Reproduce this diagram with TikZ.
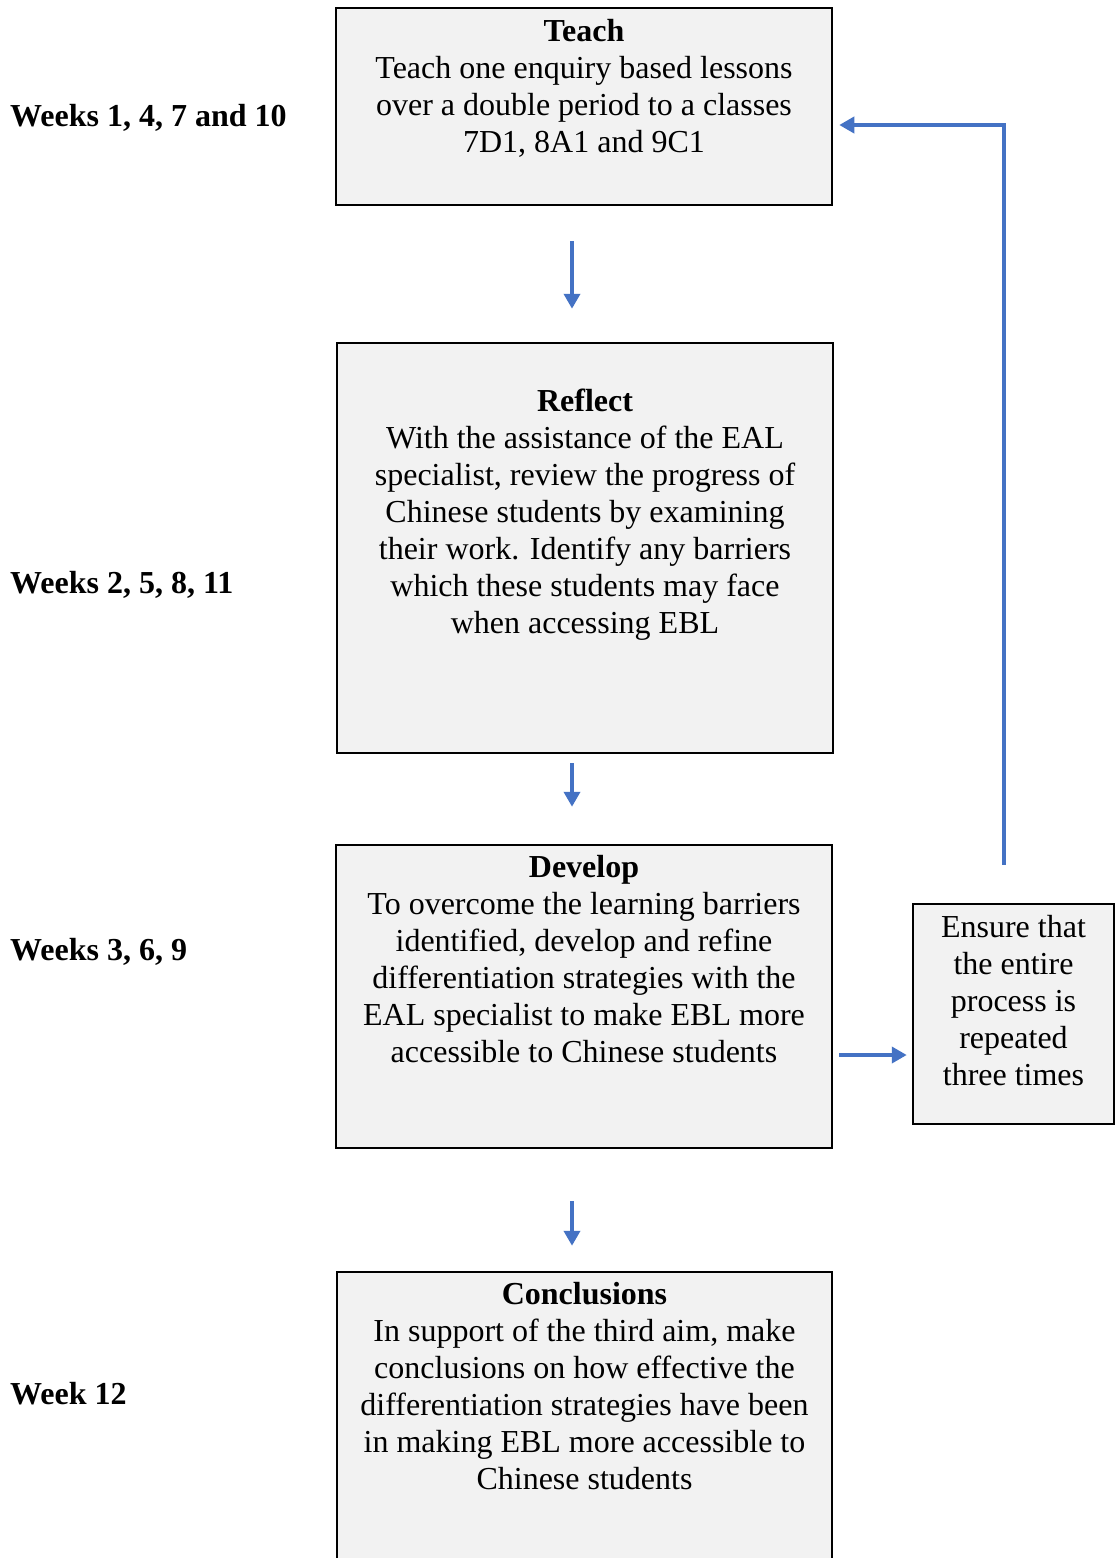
\documentclass[tikz,border=0pt]{standalone}
\usepackage{fontspec}
\setmainfont{Liberation Serif}
\usepackage{xcolor}
\usetikzlibrary{arrows.meta,positioning}
\definecolor{boxgray}{RGB}{242,242,242}
\definecolor{flowblue}{RGB}{68,114,196}

\begin{document}
\begin{tikzpicture}[x=1pt, y=-1pt, >={Triangle[width=16pt,length=15pt]},
  every node/.style={font=\fontsize{32}{37}\selectfont},
  stepbox/.style={draw=black, line width=2.5pt, fill=boxgray, inner sep=0pt},
  steptxt/.style={align=center, inner sep=0pt, anchor=north},
  week/.style={anchor=west, inner sep=0pt, font=\fontsize{32}{37}\selectfont\bfseries},
  flow/.style={->, draw=flowblue, line width=4.5pt}]
\clip (0,0) rectangle (1115,1558);
\fill[white] (0,0) rectangle (1115,1558);
% boxes
\node[stepbox, minimum width=496pt, minimum height=197pt] (teach) at (584,106.5) {};
\node[stepbox, minimum width=496pt, minimum height=410pt] (reflect) at (585,548) {};
\node[stepbox, minimum width=496pt, minimum height=303pt] (develop) at (584,996.5) {};
\node[stepbox, minimum width=495pt, minimum height=308pt] (concl) at (584.5,1426) {};
\node[stepbox, minimum width=201pt, minimum height=220pt] (ensure) at (1013.5,1014) {};
% texts
\node[steptxt, below=12pt of teach.north] (teachtxt) {\textbf{Teach}\\Teach one enquiry based lessons\\over a double period to a classes\\7D1, 8A1 and 9C1};
\node[steptxt, below=47pt of reflect.north] (reflecttxt) {\textbf{Reflect}\\With the assistance of the EAL\\specialist, review the progress of\\Chinese students by examining\\their work. Identify any barriers\\which these students may face\\when accessing EBL};
\node[steptxt, below=11pt of develop.north] (developtxt) {\textbf{Develop}\\To overcome the learning barriers\\identified, develop and refine\\differentiation strategies with the\\EAL specialist to make EBL more\\accessible to Chinese students};
\node[steptxt, below=11pt of concl.north] (concltxt) {\textbf{Conclusions}\\In support of the third aim, make\\conclusions on how effective the\\differentiation strategies have been\\in making EBL more accessible to\\Chinese students};
\node[steptxt, below=12pt of ensure.north] (ensuretxt) {Ensure that\\the entire\\process is\\repeated\\three times};
% weeks
\node[week] (w1) at (10,118) {Weeks 1, 4, 7 and 10};
\node[week] (w2) at (10,585) {Weeks 2, 5, 8, 11};
\node[week] (w3) at (10,952) {Weeks 3, 6, 9};
\node[week] (w4) at (10,1394) {Week 12};
% arrows
\draw[flow, shorten <=35pt, shorten >=33pt] ([xshift=-12pt]teach.south) -- ([xshift=-13pt]reflect.north);
\draw[flow, shorten <=9pt, shorten >=37pt] ([xshift=-13pt]reflect.south) -- ([xshift=-12pt]develop.north);
\draw[flow, shorten <=52pt, shorten >=25pt] ([xshift=-12pt]develop.south) -- ([xshift=-12.5pt]concl.north);
\draw[flow, shorten <=6pt, shorten >=5pt] ([yshift=-58.5pt]develop.east) -- ([yshift=-41pt]ensure.west);
\draw[flow, shorten <=38pt, shorten >=6pt] ([xshift=-9.5pt]ensure.north) |- ([yshift=-18.5pt]teach.east);
\end{tikzpicture}
\end{document}
